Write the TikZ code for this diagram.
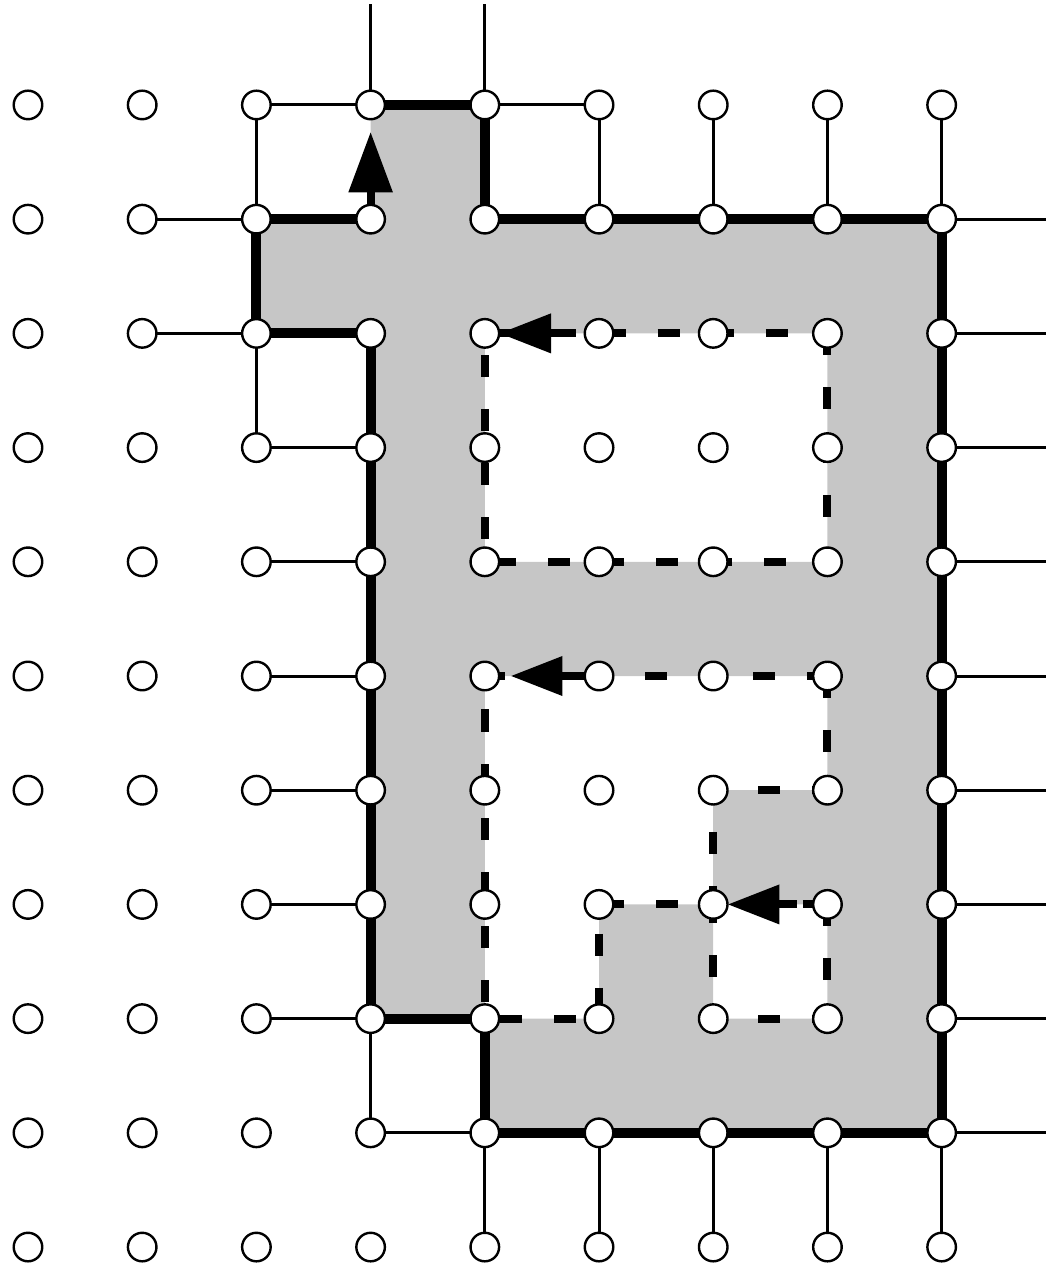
\documentclass[tikz,border=0pt]{standalone}
\usetikzlibrary{arrows.meta}
\pgfdeclarelayer{background}
\pgfsetlayers{background,main}
\definecolor{regiongray}{RGB}{198,198,198}
\tikzset{
  pt/.style={circle, draw=black, fill=white, line width=0.6pt, minimum size=0.25cm, inner sep=0pt, outer sep=0pt},
  thinedge/.style={line width=0.75pt},
  thickedge/.style={line width=2.5pt},
  dashedge/.style={line width=2pt, dash pattern=on 0.193cm off 0.28cm},
  arr/.style={line width=2pt, -{Triangle[length=0.455cm, width=0.33cm]}},
  bigarr/.style={line width=2pt, -{Triangle[length=0.53cm, width=0.37cm]}}
}
\begin{document}
\begin{tikzpicture}
\useasboundingbox (-0.245,0.919) rectangle (8.914,-10.166);
% grid of points
\foreach \c in {0,...,8}{
  \foreach \r in {0,...,10}{
    \node[pt] (n-\c-\r) at (\c,-\r) {};
  }
}
\coordinate (t3) at (3,0.88);
\coordinate (t4) at (4,0.88);
\foreach \r in {1,...,9}{ \coordinate (e-\r) at (8.914,-\r); }

% shaded region and dashed boundaries
\begin{pgfonlayer}{background}
\fill[regiongray, even odd rule]
  (n-3-0.center) -- (n-4-0.center) -- (n-4-1.center) -- (n-8-1.center) -- (n-8-9.center) -- (n-4-9.center) -- (n-4-8.center) -- (n-3-8.center) -- (n-3-2.center) -- (n-2-2.center) -- (n-2-1.center) -- (n-3-1.center) -- cycle
  (n-4-2.center) -- (n-7-2.center) -- (n-7-4.center) -- (n-4-4.center) -- cycle
  (n-4-5.center) -- (n-7-5.center) -- (n-7-6.center) -- (n-6-6.center) -- (n-6-7.center) -- (n-5-7.center) -- (n-5-8.center) -- (n-4-8.center) -- cycle
  (n-6-7.center) -- (n-7-7.center) -- (n-7-8.center) -- (n-6-8.center) -- cycle;
\draw[dashedge] (n-7-2.center) -- (n-7-4.center) -- (n-4-4.center) -- (n-4-2.center) -- (n-7-2.center);
\draw[dashedge] (n-7-5.center) -- (n-7-6.center) -- (n-6-6.center) -- (n-6-7.center) -- (n-5-7.center) -- (n-5-8.center) -- (n-4-8.center) -- (n-4-5.center) -- (n-7-5.center);
\draw[dashedge] (n-7-7.center) -- (n-7-8.center) -- (n-6-8.center) -- (n-6-7.center) -- (n-7-7.center);
\end{pgfonlayer}

% thin edges
\draw[thinedge] (t3) -- (n-3-0);
\draw[thinedge] (t4) -- (n-4-0);
\draw[thinedge] (n-2-0) -- (n-3-0);
\draw[thinedge] (n-4-0) -- (n-5-0);
\foreach \c in {2,5,6,7,8}{ \draw[thinedge] (n-\c-0) -- (n-\c-1); }
\draw[thinedge] (n-1-1) -- (n-2-1);
\draw[thinedge] (n-1-2) -- (n-2-2);
\draw[thinedge] (n-2-2) -- (n-2-3);
\foreach \r in {3,...,8}{ \draw[thinedge] (n-2-\r) -- (n-3-\r); }
\foreach \r in {1,...,9}{ \draw[thinedge] (n-8-\r) -- (e-\r); }
\draw[thinedge] (n-3-8) -- (n-3-9);
\draw[thinedge] (n-3-9) -- (n-4-9);
\foreach \c in {4,...,8}{ \draw[thinedge] (n-\c-9) -- (n-\c-10); }

% thick edges
\draw[thickedge] (n-3-0) -- (n-4-0);
\draw[thickedge] (n-4-0) -- (n-4-1);
\draw[thickedge] (n-2-1) -- (n-3-1);
\draw[thickedge] (n-2-1) -- (n-2-2);
\draw[thickedge] (n-2-2) -- (n-3-2);
\draw[thickedge] (n-3-8) -- (n-4-8);
\draw[thickedge] (n-4-8) -- (n-4-9);
\foreach \c [evaluate=\c as \d using int(\c+1)] in {4,...,7}{
  \draw[thickedge] (n-\c-1) -- (n-\d-1);
  \draw[thickedge] (n-\c-9) -- (n-\d-9);
}
\foreach \r [evaluate=\r as \s using int(\r+1)] in {1,...,8}{
  \draw[thickedge] (n-8-\r) -- (n-8-\s);
}
\foreach \r [evaluate=\r as \s using int(\r+1)] in {2,...,7}{
  \draw[thickedge] (n-3-\r) -- (n-3-\s);
}

% arrows
\draw[bigarr, shorten >=0.11cm] (n-3-1) -- (n-3-0);
\draw[arr, shorten <=0.08cm] (n-5-2) -- (n-4-2);
\draw[arr, shorten >=0.1cm] (n-5-5) -- (n-4-5);
\draw[arr, shorten <=0.14cm] (n-7-7) -- (n-6-7);
\end{tikzpicture}
\end{document}
